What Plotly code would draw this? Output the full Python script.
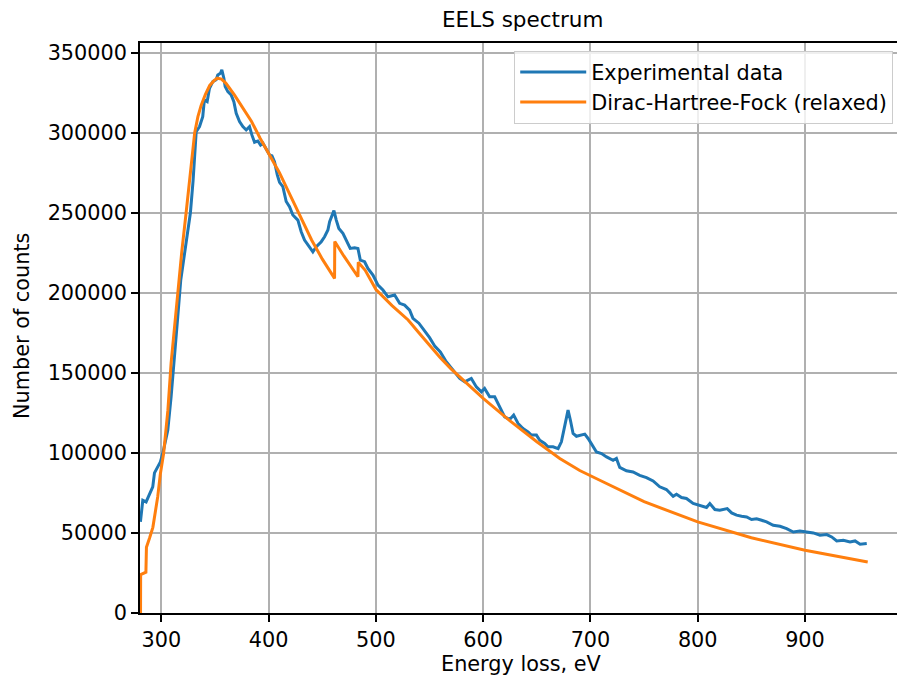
import plotly.graph_objects as go

exp_energy = [280.4, 282.6, 285.7, 288.8, 291.9, 293.5, 296.5, 299.0, 301.2, 303.5,
              305.9, 309.0, 312.1, 315.2, 318.0, 321.5, 324.0, 327.0, 329.5, 331.0,
              332.4, 335.5, 338.5, 340.0, 342.6, 344.8, 347.9, 351.0, 352.5, 355.0,
              356.3, 358.2, 359.4, 361.9, 365.0, 367.5, 369.7, 372.8, 375.9, 379.0,
              382.1, 384.3, 386.8, 389.9, 392.4, 394.6, 397.7, 400.8, 403.0, 405.4,
              408.0, 410.1, 413.2, 416.3, 419.4, 422.5, 427.2, 430.3, 433.4, 438.1,
              441.2, 444.4, 449.0, 452.1, 455.2, 456.8, 459.3, 460.8, 463.0, 465.4,
              469.2, 472.3, 476.0, 480.1, 483.2, 485.4, 489.4, 492.5, 497.2, 501.9,
              506.5, 511.2, 517.4, 522.1, 526.7, 531.4, 534.5, 540.0, 545.0, 550.0,
              555.0, 560.0, 565.0, 570.0, 575.0, 578.1, 582.7, 588.9, 593.6, 598.3,
              601.3, 606.0, 610.7, 615.4, 620.0, 624.7, 628.4, 632.5, 637.1, 641.8,
              644.9, 649.6, 652.7, 657.3, 660.4, 665.1, 669.8, 672.9, 676.0, 679.1,
              681.3, 683.8, 686.9, 691.6, 694.7, 697.8, 702.5, 705.6, 710.3, 715.0,
              721.1, 724.2, 727.3, 733.5, 739.7, 745.9, 752.2, 758.4, 764.6, 770.8,
              777.1, 780.2, 784.9, 789.5, 795.7, 802.0, 808.2, 811.3, 816.0, 820.6,
              827.5, 831.6, 836.2, 840.9, 845.6, 850.2, 854.9, 859.6, 864.2, 870.4,
              876.7, 882.9, 889.1, 895.3, 901.6, 907.8, 914.0, 920.3, 924.9, 929.6,
              935.8, 942.0, 946.7, 951.4, 957.6]
exp_counts = [56900, 70400, 69400, 73600, 78800, 87500, 91200, 94400, 99600, 106000,
              114200, 135000, 158000, 185000, 208000, 224000, 237000, 250000, 270000, 287000,
              300600, 303800, 310000, 320400, 319400, 327700, 331900, 333000, 336000, 337100,
              339200, 334000, 328800, 325600, 323600, 319400, 312100, 306900, 303800, 301700,
              303800, 298600, 294000, 294800, 292300, 293400, 289200, 286000, 285600, 281900,
              273600, 269000, 266300, 257000, 253700, 248600, 245400, 238100, 232900, 228800,
              225600, 228800, 231900, 235000, 239200, 244400, 249600, 251300, 245400, 240200,
              237100, 232900, 227700, 228100, 227700, 220400, 219400, 215200, 211000, 204800,
              201700, 197500, 198600, 193400, 192300, 189200, 184000, 181000, 176500, 172000,
              166500, 163000, 157500, 153000, 149000, 146500, 144400, 146500, 141200, 138100,
              140200, 135000, 135000, 128700, 122500, 120900, 123600, 118400, 115200, 113100,
              111100, 111100, 107900, 105900, 103800, 103800, 102700, 106900, 116300, 126700,
              120400, 112100, 110400, 111100, 111700, 109000, 103800, 100600, 99600, 97500,
              95400, 96500, 90900, 88800, 88100, 86000, 84600, 82500, 78800, 77100,
              72900, 74200, 72100, 71500, 68400, 67300, 65900, 68400, 64600, 64200,
              65200, 62500, 61100, 60400, 60000, 58400, 58800, 57900, 56900, 54800,
              54200, 52700, 50600, 51200, 50600, 50000, 48600, 49000, 47500, 45000,
              45400, 44400, 45000, 42900, 43400]

# ---- Dirac-Hartree-Fock (relaxed) ----
dhf_energy = [280.5, 280.6, 285.5, 286.0, 289.0, 292.0, 296.5, 299.0, 302.0, 306.0,
              309.0, 312.0, 315.2, 319.0, 323.0, 327.0, 331.0, 334.0, 337.0, 341.0,
              345.0, 349.0, 352.0, 356.0, 360.0, 368.0, 376.0, 384.0, 392.0, 400.0,
              410.0, 420.0, 429.0, 440.0, 450.0, 461.4, 461.6, 470.0, 483.2, 483.5,
              490.0, 500.0, 515.0, 530.0, 540.0, 550.0, 560.0, 570.0, 578.0, 590.0,
              600.0, 625.0, 650.0, 671.4, 690.0, 708.7, 750.0, 800.0, 850.0, 900.0,
              930.0, 958.5]
dhf_counts = [0, 24000, 25500, 41000, 47000, 53500, 72500, 87000, 99600, 126700,
              156000, 178000, 200000, 226000, 250000, 277000, 300000, 310000, 317000, 324000,
              329500, 332500, 334000, 333500, 331000, 323600, 315500, 307000, 296500, 287000,
              275000, 261000, 248000, 233000, 221000, 209000, 232000, 223000, 210000, 219000,
              214000, 202000, 192000, 183000, 175000, 167000, 159500, 152500, 147500, 140000,
              134000, 120000, 107000, 96500, 89000, 82900, 69500, 56900, 47000, 39200,
              35500, 31900]

x_ticks = [300, 400, 500, 600, 700, 800, 900]
y_ticks = [0, 50000, 100000, 150000, 200000, 250000, 300000, 350000]

FONT = "DejaVu Sans"
FS = 20.8

fig = go.Figure()
fig.add_trace(go.Scatter(x=exp_energy, y=exp_counts, mode="lines",
                         name="Experimental data",
                         line=dict(color="#1f77b4", width=3.0)))
fig.add_trace(go.Scatter(x=dhf_energy, y=dhf_counts, mode="lines",
                         name="Dirac-Hartree-Fock (relaxed)",
                         line=dict(color="#ff7f0e", width=3.0)))

L, R, T, B = 140, 0, 43, 71
W, H = 897, 684
pw = W - L - R
ph = H - T - B

def px_x(p):
    return (p - L) / pw

def px_y(p):
    return (H - B - p) / ph

fig.update_layout(
    width=W, height=H,
    margin=dict(l=L, r=R, t=T, b=B, pad=0),
    paper_bgcolor="white", plot_bgcolor="white",
    font=dict(family=FONT, size=FS, color="black"),
    showlegend=True,
    legend=dict(x=0.995, xanchor="right", y=0.986, yanchor="top",
                bgcolor="rgba(255,255,255,0.8)", bordercolor="#cccccc",
                borderwidth=1, itemwidth=66,
                font=dict(family=FONT, size=FS, color="black")),
    xaxis=dict(range=[280, 985.8], tickvals=x_ticks, showgrid=True,
               gridcolor="#b0b0b0", gridwidth=1.6, ticks="outside", ticklen=7,
               tickwidth=1.6, tickcolor="black", showline=True, linecolor="black",
               linewidth=1.6, mirror=True, zeroline=False,
               tickfont=dict(family=FONT, size=FS, color="black")),
    yaxis=dict(range=[0, 356000], tickvals=y_ticks, tickformat="d", showgrid=True,
               gridcolor="#b0b0b0", gridwidth=1.6, ticks="outside", ticklen=7,
               tickwidth=1.6, tickcolor="black", showline=True, linecolor="black",
               linewidth=1.6, mirror=False, zeroline=False,
               tickfont=dict(family=FONT, size=FS, color="black")),
    annotations=[
        dict(text="EELS spectrum", xref="paper", yref="paper",
             x=px_x(522), y=px_y(19), xanchor="center", yanchor="middle",
             showarrow=False, font=dict(family=FONT, size=21.5, color="black")),
        dict(text="Energy loss, eV", xref="paper", yref="paper",
             x=px_x(521), y=px_y(664), xanchor="center", yanchor="middle",
             showarrow=False, font=dict(family=FONT, size=FS, color="black")),
        dict(text="Number of counts", xref="paper", yref="paper",
             x=px_x(22), y=px_y(326), xanchor="center", yanchor="middle",
             textangle=-90, showarrow=False,
             font=dict(family=FONT, size=FS, color="black")),
    ],
)

fig.write_html(
    "out.html",
    config={"displayModeBar": False},
    post_script="document.body.style.margin='0';document.body.style.overflow='hidden';",
)
